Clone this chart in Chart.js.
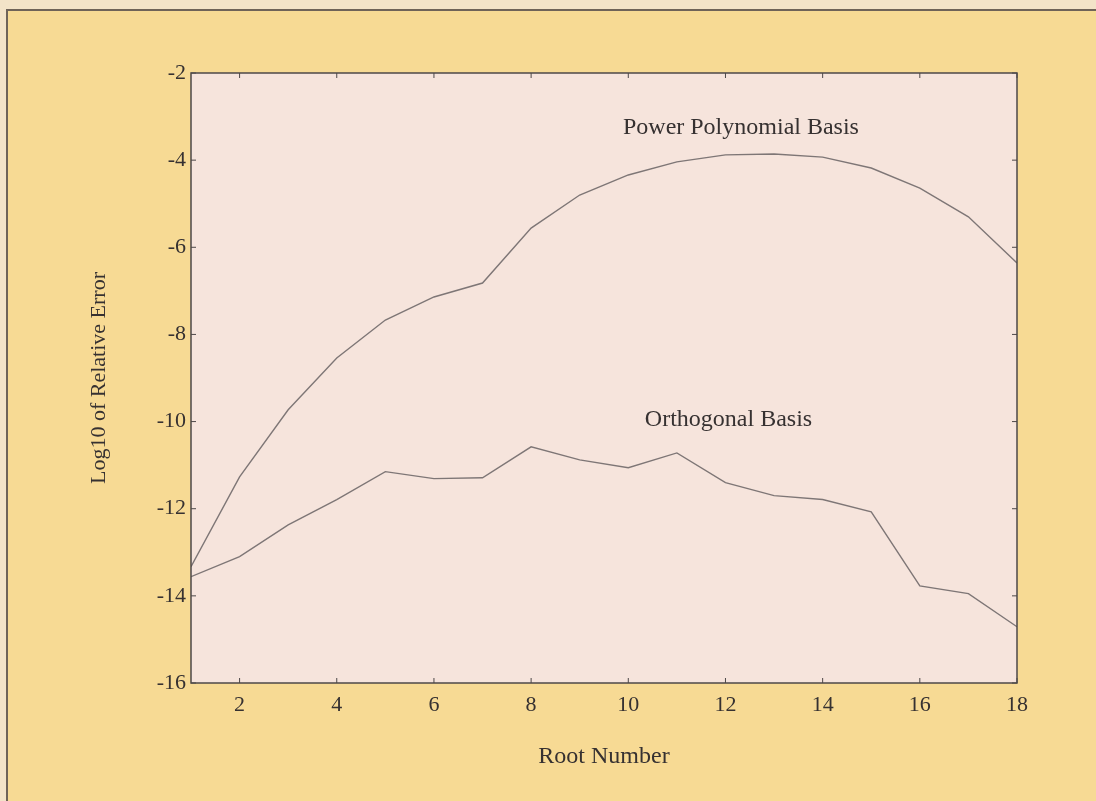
<!DOCTYPE html>
<html>
<head>
<meta charset="utf-8">
<script src="https://cdn.jsdelivr.net/npm/chart.js@4"></script>
<style>
  html, body { margin: 0; padding: 0; background: #f3e3c8; }
  #page {
    position: absolute; left: 6px; top: 9px; width: 1090px; height: 792px;
    background: #f7da94;
    border-top: 2px solid #6f6358; border-left: 2px solid #6f6358;
    box-sizing: border-box;
  }
  #wrap { position: absolute; left: 0; top: 0; width: 1096px; height: 801px; }
</style>
</head>
<body>
<div id="page"></div>
<div id="wrap"><canvas id="myChart" width="1096" height="801"></canvas></div>
<script>
// root number 1..18
const roots = [1, 2, 3, 4, 5, 6, 7, 8, 9, 10, 11, 12, 13, 14, 15, 16, 17, 18]
const powerBasis = [-13.33, -11.27, -9.73, -8.54, -7.67, -7.14, -6.82, -5.56, -4.8, -4.34, -4.04, -3.88, -3.86, -3.93, -4.18, -4.64, -5.3, -6.36]
const orthoBasis = [-13.56, -13.1, -12.37, -11.79, -11.15, -11.31, -11.29, -10.58, -10.88, -11.06, -10.72, -11.4, -11.7, -11.79, -12.07, -13.77, -13.95, -14.71]
const xTicks = [2, 4, 6, 8, 10, 12, 14, 16, 18]
const yTicks = [-16, -14, -12, -10, -8, -6, -4, -2]

const labels = [
  { text: 'Power Polynomial Basis', x: 9.89, y: -3.26 },
  { text: 'Orthogonal Basis', x: 10.34, y: -9.96 },
]

const font = 'Liberation Serif'
const textColor = '#363131'
const lineColor = '#7e7676'
const frameColor = '#4d4848'

// plot background, frame, inward ticks and text labels
const framePlugin = {
  id: 'frame',
  beforeDraw(chart) {
    const { ctx, chartArea: a } = chart
    ctx.save()
    ctx.fillStyle = '#f6e4dc'
    ctx.fillRect(a.left, a.top, a.right - a.left, a.bottom - a.top)
    ctx.restore()
  },
  afterDraw(chart) {
    const { ctx, chartArea: a, scales } = chart
    ctx.save()
    ctx.strokeStyle = frameColor
    ctx.lineWidth = 1.5
    ctx.strokeRect(a.left, a.top, a.right - a.left, a.bottom - a.top)
    ctx.lineWidth = 1
    ctx.beginPath()
    xTicks.forEach(v => {
      const px = scales.x.getPixelForValue(v)
      ctx.moveTo(px, a.bottom); ctx.lineTo(px, a.bottom - 5)
      ctx.moveTo(px, a.top); ctx.lineTo(px, a.top + 5)
    })
    yTicks.forEach(v => {
      const py = scales.y.getPixelForValue(v)
      ctx.moveTo(a.left, py); ctx.lineTo(a.left + 5, py)
      ctx.moveTo(a.right, py); ctx.lineTo(a.right - 5, py)
    })
    ctx.stroke()

    ctx.fillStyle = textColor
    ctx.font = '24px "' + font + '"'
    ctx.textBaseline = 'middle'
    ctx.textAlign = 'left'
    labels.forEach(l => {
      ctx.fillText(l.text, scales.x.getPixelForValue(l.x), scales.y.getPixelForValue(l.y))
    })
    ctx.restore()
  }
}

new Chart(document.getElementById('myChart').getContext('2d'), {
  type: 'line',
  data: {
    labels: roots,
    datasets: [
      {
        label: 'Power Polynomial Basis',
        data: roots.map((r, i) => ({ x: r, y: powerBasis[i] })),
        borderColor: lineColor,
        borderWidth: 1.4,
        pointRadius: 0,
        tension: 0,
      },
      {
        label: 'Orthogonal Basis',
        data: roots.map((r, i) => ({ x: r, y: orthoBasis[i] })),
        borderColor: lineColor,
        borderWidth: 1.4,
        pointRadius: 0,
        tension: 0,
      }
    ]
  },
  options: {
    responsive: false,
    animation: false,
    layout: { padding: { left: 82, right: 79, top: 73, bottom: 30 } },
    plugins: {
      legend: { display: false },
      tooltip: { enabled: false },
    },
    scales: {
      x: {
        type: 'linear',
        min: 1,
        max: 18,
        afterBuildTicks: s => { s.ticks = xTicks.map(v => ({ value: v })) },
        afterFit: s => { s.height = 801 - 683 - 30 },
        grid: { display: false, drawTicks: false },
        border: { display: false },
        ticks: { color: textColor, padding: 9, font: { family: font, size: 22 } },
        title: {
          display: true,
          text: 'Root Number',
          color: textColor,
          padding: { top: 20, bottom: 0 },
          font: { family: font, size: 24 },
        },
      },
      y: {
        min: -16,
        max: -2,
        afterBuildTicks: s => { s.ticks = yTicks.map(v => ({ value: v })) },
        afterFit: s => { s.width = 191 - 82 },
        grid: { display: false, drawTicks: false },
        border: { display: false },
        ticks: { color: textColor, padding: 5, font: { family: font, size: 22 } },
        title: {
          display: true,
          text: 'Log10 of Relative Error',
          color: textColor,
          padding: { top: 4, bottom: 4 },
          font: { family: font, size: 22 },
        },
      }
    }
  },
  plugins: [framePlugin]
})
</script>
</body>
</html>
